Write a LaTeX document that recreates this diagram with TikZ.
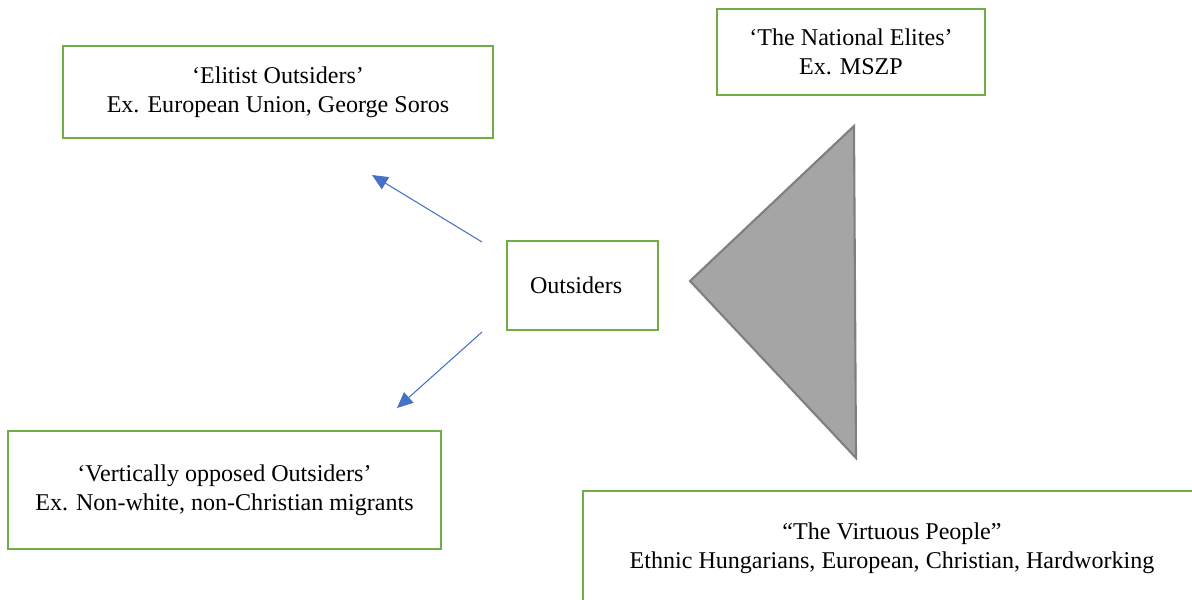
\documentclass[tikz,border=0pt]{standalone}
\usepackage{fontspec}
\setmainfont{Liberation Serif}
\usetikzlibrary{arrows.meta}
\definecolor{boxgreen}{HTML}{70AD47}
\definecolor{arrowblue}{HTML}{4472C4}
\definecolor{trifill}{HTML}{A5A5A5}
\definecolor{triedge}{HTML}{7F7F7F}
\tikzset{
  groupbox/.style={draw=boxgreen,line width=1.2pt,align=center,
    font=\fontsize{13.7}{16.5}\selectfont},
  outarrow/.style={draw=arrowblue,line width=0.6pt,-{Triangle[length=9pt,width=8pt]}}
}
\begin{document}
\begin{tikzpicture}[x=0.02cm,y=-0.02cm]
\useasboundingbox (0,0) rectangle (1192,599);
   \node[groupbox,minimum width=8.6cm,minimum height=1.84cm] at (278,92) (elitist)
      {‘Elitist Outsiders’\\Ex. European Union, George Soros};
   \node[groupbox,minimum width=5.36cm,minimum height=1.72cm] at (851,52) (elites)
      {‘The National Elites’\\Ex. MSZP};
   \node[groupbox,minimum width=3.02cm,minimum height=1.78cm,text width=2.1cm,
      align=left,inner xsep=0.42cm] at (582.5,285.5) (outsiders) {Outsiders};
   \node[groupbox,minimum width=8.66cm,minimum height=2.36cm] at (224.5,490) (vertical)
      {‘Vertically opposed Outsiders’\\Ex. Non-white, non-Christian migrants};
   \node[groupbox,minimum width=12.36cm,minimum height=2.28cm] at (892,548) (people)
      {“The Virtuous People”\\Ethnic Hungarians, European, Christian, Hardworking};

   % triangle between the elites and the people
   \draw[fill=trifill,draw=triedge,line width=1.2pt,line join=miter]
      (690,281) -- (854,126) -- (856,458) -- cycle;

   \coordinate (up start) at (482,242);
   \coordinate (up end) at (372,175);
   \coordinate (down start) at (482,332);
   \coordinate (down end) at (397,408);
   \draw[outarrow] (up start) -- (up end);
   \draw[outarrow] (down start) -- (down end);
\end{tikzpicture}
\end{document}
